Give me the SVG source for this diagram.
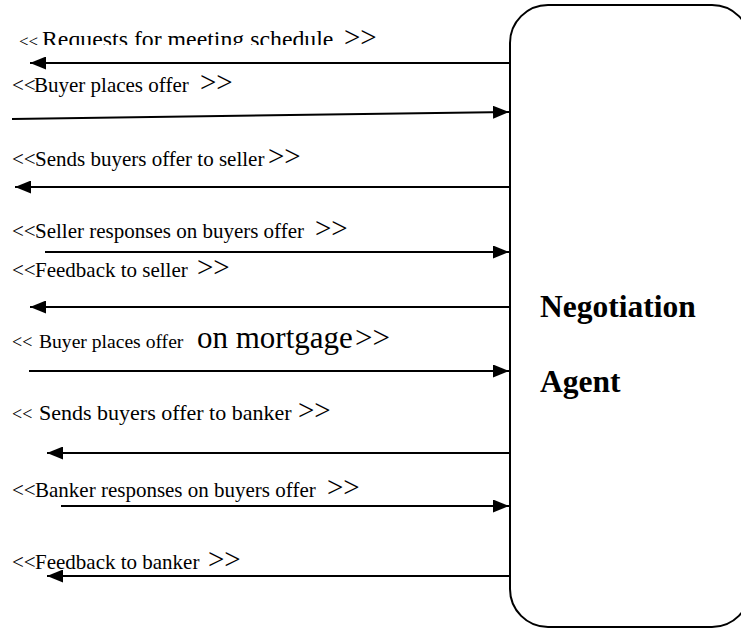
<svg xmlns="http://www.w3.org/2000/svg" width="741" height="629" viewBox="0 0 741 629">
  <style>
    .lbl { font-family: "Liberation Serif", "Times New Roman", serif; font-size: 21px; fill: #000; }
    .big { font-size: 29px; }
    .agent { font-family: "Liberation Serif", "Times New Roman", serif; font-size: 31.5px; font-weight: bold; fill: #000; }
    .wire { stroke: #000; stroke-width: 2; fill: none; marker-end: url(#head); }
    .box { stroke: #000; stroke-width: 2; fill: #fff; }
  </style>
  <defs>
    <marker id="head" markerUnits="userSpaceOnUse" markerWidth="16" markerHeight="13" refX="16" refY="6.5" orient="auto">
      <path d="M0,0 L16,6.5 L0,13 z" fill="#000"/>
    </marker>
    <clipPath id="topCut">
      <rect x="0" y="0" width="741" height="45"/>
    </clipPath>
  </defs>
  <rect width="741" height="629" fill="#fff"/>

  <!-- agent node -->
  <g id="negotiation-agent">
    <rect class="box" x="510" y="5" width="240" height="622" rx="38" ry="38"/>
    <text class="agent" x="540" y="317">Negotiation</text>
    <text class="agent" x="540" y="392">Agent</text>
  </g>

  <!-- message connectors -->
  <g id="connectors">
    <line class="wire" x1="510" y1="63" x2="30" y2="63"/>
    <line class="wire" x1="12" y1="119" x2="509" y2="112"/>
    <line class="wire" x1="510" y1="187" x2="15" y2="187"/>
    <line class="wire" x1="45" y1="252" x2="509" y2="252"/>
    <line class="wire" x1="510" y1="307" x2="30" y2="307"/>
    <line class="wire" x1="29" y1="371" x2="509" y2="371"/>
    <line class="wire" x1="510" y1="453" x2="47" y2="453"/>
    <line class="wire" x1="61" y1="506" x2="509" y2="506"/>
    <line class="wire" x1="510" y1="576" x2="47" y2="576"/>
  </g>

  <!-- message labels -->
  <g id="labels">
    <text class="lbl" clip-path="url(#topCut)" y="47"><tspan x="19" font-size="17">&lt;&lt;</tspan><tspan x="42" font-size="23.8">Requests for meeting schedule</tspan><tspan x="344" class="big" font-size="31">&gt;&gt;</tspan></text>
    <text class="lbl" y="92"><tspan x="12">&lt;&lt;</tspan><tspan x="34">Buyer places offer</tspan><tspan x="200" class="big">&gt;&gt;</tspan></text>
    <text class="lbl" y="166"><tspan x="12">&lt;&lt;</tspan><tspan x="35">Sends buyers offer to seller</tspan><tspan x="268" class="big">&gt;&gt;</tspan></text>
    <text class="lbl" y="238"><tspan x="12">&lt;&lt;</tspan><tspan x="35">Seller responses on buyers offer</tspan><tspan x="315" class="big">&gt;&gt;</tspan></text>
    <text class="lbl" y="277"><tspan x="12">&lt;&lt;</tspan><tspan x="35">Feedback to seller</tspan><tspan x="197" class="big">&gt;&gt;</tspan></text>
    <text class="lbl" y="348"><tspan x="12" font-size="18">&lt;&lt;</tspan><tspan x="39" font-size="19.6">Buyer places offer</tspan><tspan x="197" font-size="31">on mortgage</tspan><tspan x="355" font-size="31">&gt;&gt;</tspan></text>
    <text class="lbl" y="420"><tspan x="12" font-size="18">&lt;&lt;</tspan><tspan x="39" font-size="22">Sends buyers offer to banker</tspan><tspan x="298" class="big" font-size="25">&gt;&gt;</tspan></text>
    <text class="lbl" y="497"><tspan x="12">&lt;&lt;</tspan><tspan x="35">Banker responses on buyers offer</tspan><tspan x="327" class="big">&gt;&gt;</tspan></text>
    <text class="lbl" y="569"><tspan x="12">&lt;&lt;</tspan><tspan x="35">Feedback to banker</tspan><tspan x="208" class="big">&gt;&gt;</tspan></text>
  </g>
</svg>
